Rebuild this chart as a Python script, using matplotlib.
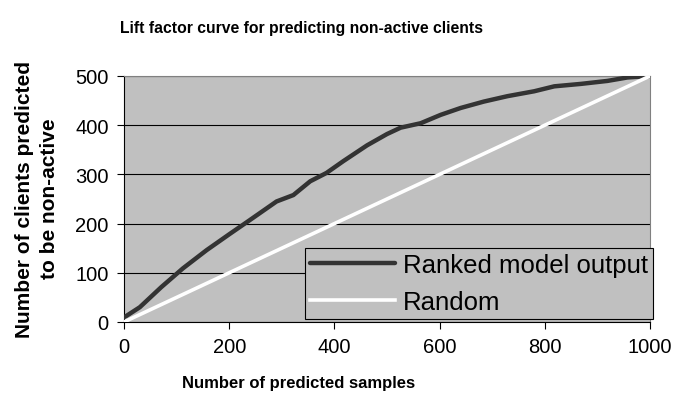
import matplotlib

matplotlib.use("Agg")
import matplotlib.pyplot as plt

plt.rcParams["font.family"] = ["Liberation Sans", "DejaVu Sans"]

# values
ranked_x = [0, 4, 30, 71, 112, 157, 201, 239, 290, 322, 354, 385, 417, 462, 500,
            526, 564, 602, 640, 684, 729, 780, 818, 869, 919, 957, 1000]
ranked_y = [10, 12, 30, 71, 109, 146, 179, 207, 245, 258, 286, 303, 327, 359, 382,
            395, 404, 421, 435, 448, 459, 469, 479, 484, 490, 497, 500]
random_x = [0, 1000]
random_y = [0, 500]
x_ticks = [0, 200, 400, 600, 800, 1000]
y_ticks = [0, 100, 200, 300, 400, 500]

W, H = 674, 402
fig = plt.figure(figsize=(W / 100, H / 100), dpi=100)
ax = fig.add_axes([124 / W, 1 - 323 / H, 526 / W, 246 / H])
ax.set_facecolor("#c0c0c0")

ax.plot(ranked_x, ranked_y, color="#333333", lw=3.2, label="Ranked model output",
        solid_capstyle="round", zorder=3)
ax.plot(random_x, random_y, color="white", lw=2.6, label="Random", zorder=3)

ax.set_xlim(0, 1000)
ax.set_ylim(0, 500)
ax.set_xticks(x_ticks)
ax.set_yticks(y_ticks)
ax.yaxis.grid(True, color="black", lw=0.8)
ax.set_axisbelow(True)
ax.tick_params(direction="out", length=5, width=0.8, labelsize=14.5, pad=6)

for side in ["top", "right"]:
    ax.spines[side].set_color("#808080")
for side in ["left", "bottom"]:
    ax.spines[side].set_color("black")

fig.text(302 / W, 1 - 28 / H, "Lift factor curve for predicting non-active clients",
         fontsize=11.3, fontweight="bold", ha="center", va="center")
fig.text(299 / W, 1 - 384 / H, "Number of predicted samples",
         fontsize=12, fontweight="bold", ha="center", va="center")
fig.text(37 / W, 1 - 199 / H, "Number of clients predicted\nto be non-active",
         fontsize=15, fontweight="bold", ha="center", va="center",
         rotation=90, linespacing=1.4, multialignment="center")

leg = ax.legend(loc="lower right", bbox_to_anchor=(653 / W, 1 - 320 / H),
                bbox_transform=fig.transFigure, fontsize=18.5,
                frameon=True, fancybox=False, handlelength=3.3, borderpad=0.2,
                labelspacing=0.5, handletextpad=0.3, borderaxespad=0)
leg.get_frame().set_facecolor("#c0c0c0")
leg.get_frame().set_edgecolor("black")
leg.get_frame().set_linewidth(0.8)
leg.get_frame().set_alpha(1)

fig.savefig("out.png")
